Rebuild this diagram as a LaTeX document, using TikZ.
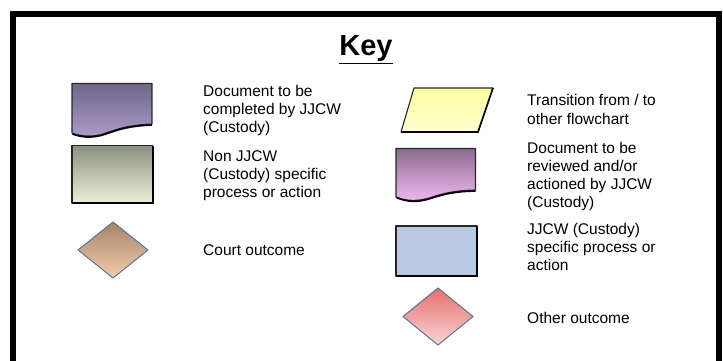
\documentclass[tikz,border=0pt]{standalone}
\usepackage{fontspec}
\setmainfont{Liberation Sans}
\definecolor{purpT}{HTML}{6F6788}
\definecolor{purpB}{HTML}{AB9DCB}
\definecolor{grayT}{HTML}{8A907F}
\definecolor{grayB}{HTML}{EEF0D9}
\definecolor{courtT}{HTML}{A3856B}
\definecolor{courtB}{HTML}{F5CBA8}
\definecolor{pinkT}{HTML}{8A6E8E}
\definecolor{pinkB}{HTML}{F2B8F2}
\definecolor{redT}{HTML}{E86E6E}
\definecolor{redB}{HTML}{F8D6D6}
\definecolor{yelT}{HTML}{FFFF9E}
\definecolor{yelB}{HTML}{FFFFD2}
\definecolor{blueF}{HTML}{B8CAE2}
\definecolor{diaLine}{HTML}{5A7394}
\begin{document}
\begin{tikzpicture}[x=1pt,y=-1pt,
  lbl/.style={anchor=base west,inner sep=0pt,font=\fontsize{15.5}{18.2}\selectfont},
  shapeline/.style={draw=black!85,line width=1.1pt,line join=round},
  shadowline/.style={draw=black,line width=1.6pt,line join=round},
  dialine/.style={draw=diaLine,line width=1pt,line join=round}]
\useasboundingbox (0,0) rectangle (723,361);
\fill[white] (0,0) rectangle (723,361);
% frame
\draw[line width=6pt] (12.5,370) -- (12.5,14) -- (718.5,14) -- (718.5,370);
% title
\node[anchor=base,inner sep=0pt,font=\fontsize{29}{34}\selectfont\bfseries] (title) at (366,56) {\underline{Key}};
% purple document
\def\docA{(72,83.5) -- (152,83.5) -- (152,124) .. controls (130,125) and (120,128) .. (106,133) .. controls (92,138) and (80,136) .. (72,133) -- cycle}
\shade[top color=purpT,bottom color=purpB] \docA;
\draw[shapeline] \docA;
\draw[shadowline] (72.5,134) .. controls (80,137) and (92,139) .. (106,134) .. controls (120,129) and (130,126) .. (152,125);
% gray rectangle
\shade[top color=grayT,bottom color=grayB] (72,145.5) rectangle (152.5,203);
\draw[shapeline] (72,145.5) rectangle (152.5,203);
\draw[line width=2pt] (72,203) -- (152.5,203) -- (152.5,145.5);
% court diamond
\def\diaA{(113,222) -- (148,250) -- (113,278) -- (78,250) -- cycle}
\shade[top color=courtT,bottom color=courtB] \diaA;
\draw[dialine] \diaA;
% yellow parallelogram
\def\paraA{(414,88) -- (493,88) -- (478,132) -- (401,132) -- cycle}
\shade[top color=yelT,bottom color=yelB] \paraA;
\draw[shapeline] \paraA;
\draw[line width=1.6pt] (401,132) -- (478,132) -- (493,88);
% pink document
\def\docB{(396,148.5) -- (475.5,148.5) -- (475.5,190) .. controls (455,190.5) and (445,193) .. (432,197) .. controls (418,202) and (406,201) .. (396,197) -- cycle}
\shade[top color=pinkT,bottom color=pinkB] \docB;
\draw[shapeline] \docB;
\draw[shadowline] (396.5,197.5) .. controls (406,202) and (418,203) .. (432,198) .. controls (445,194) and (455,191.5) .. (475.5,191);
% blue rectangle
\fill[blueF] (396,226) rectangle (477,276);
\draw[shapeline] (396,226) rectangle (477,276);
\draw[line width=1.8pt] (396,276) -- (477,276) -- (477,226);
% red diamond
\def\diaB{(438,288) -- (473,316.5) -- (438,345) -- (403,316.5) -- cycle}
\shade[top color=redT,bottom color=redB] \diaB;
\draw[dialine] \diaB;
% labels left
\node[lbl] (t1) at (203,96.5) {\begin{tabular}[t]{@{}l@{}}Document to be\\completed by JJCW\\(Custody)\end{tabular}};
\node[lbl] (t2) at (203,161.5) {\begin{tabular}[t]{@{}l@{}}Non JJCW\\(Custody) specific\\process or action\end{tabular}};
\node[lbl] (t3) at (203,255) {Court outcome};
% labels right
\node[lbl] (t4) at (527,106) {\begin{tabular}[t]{@{}l@{}}Transition from / to\\other flowchart\end{tabular}};
\node[lbl] (t5) at (527,153.3) {\begin{tabular}[t]{@{}l@{}}Document to be\\reviewed and/or\\actioned by JJCW\\(Custody)\end{tabular}};
\node[lbl] (t6) at (527,234.3) {\begin{tabular}[t]{@{}l@{}}JJCW (Custody)\\specific process or\\action\end{tabular}};
\node[lbl] (t7) at (527,323.3) {Other outcome};
\end{tikzpicture}
\end{document}
